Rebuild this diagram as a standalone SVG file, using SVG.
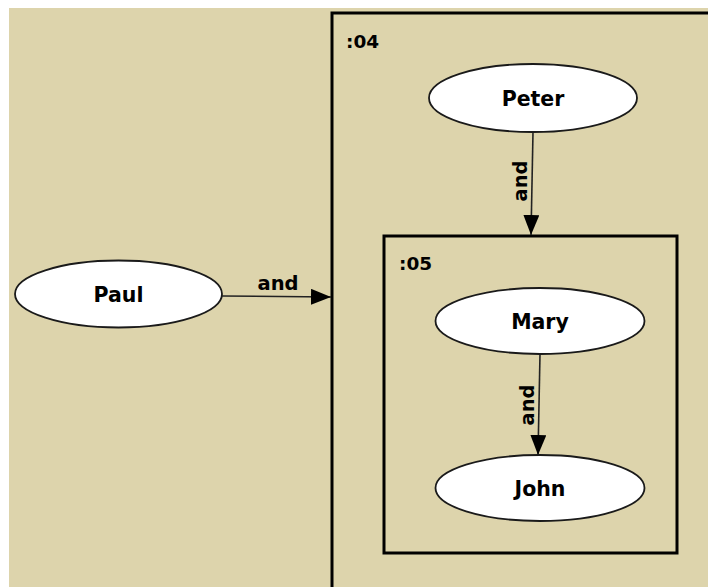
<svg xmlns="http://www.w3.org/2000/svg" width="708" height="587" viewBox="0 0 708 587">
  <defs>
    <marker id="arrowBig" viewBox="0 0 20 16" refX="20" refY="8" markerWidth="20" markerHeight="16" markerUnits="userSpaceOnUse" orient="auto">
      <path d="M0,0 L20,8 L0,16 Z" fill="#000"/>
    </marker>
  </defs>
  <style>
    .canvas { fill: #ddd4ac; }
    .box { fill: none; stroke: #000; stroke-width: 3; }
    .node ellipse { fill: #fff; stroke: #1a1a1a; stroke-width: 1.8; }
    .label { font-family: "DejaVu Sans", Verdana, sans-serif; font-weight: bold; font-size: 20.5px; fill: #000; }
    .boxlabel { font-family: "DejaVu Sans", Verdana, sans-serif; font-weight: bold; font-size: 18.5px; fill: #000; }
    .edge { stroke: #222; stroke-width: 1.6; fill: none; }
    .elabel { font-family: "DejaVu Sans", Verdana, sans-serif; font-weight: bold; font-size: 19.5px; fill: #000; }
  </style>

  <rect x="0" y="0" width="708" height="587" fill="#fff"/>
  <rect class="canvas" x="9" y="8" width="699" height="579"/>

  <!-- nested groups -->
  <g id="group04">
    <rect class="box" x="332" y="13" width="390" height="590"/>
    <text class="boxlabel" x="346" y="48">:04</text>
  </g>
  <g id="group05">
    <rect class="box" x="384" y="236" width="293" height="317"/>
    <text class="boxlabel" x="399" y="270">:05</text>
  </g>

  <!-- connectors -->
  <g id="connectors">
    <line class="edge" x1="222" y1="296" x2="331" y2="297" marker-end="url(#arrowBig)"/>
    <text class="elabel" x="278" y="290" text-anchor="middle">and</text>

    <line class="edge" x1="533" y1="132" x2="531" y2="235" marker-end="url(#arrowBig)"/>
    <text class="elabel" transform="translate(527,181) rotate(-90)" text-anchor="middle">and</text>

    <line class="edge" x1="540" y1="354" x2="538" y2="455" marker-end="url(#arrowBig)"/>
    <text class="elabel" transform="translate(534,405) rotate(-90)" text-anchor="middle">and</text>
  </g>

  <!-- nodes -->
  <g id="paul" class="node">
    <ellipse cx="118.5" cy="294" rx="103.5" ry="33.5"/>
    <text class="label" x="118.5" y="302" text-anchor="middle">Paul</text>
  </g>
  <g id="peter" class="node">
    <ellipse cx="533" cy="98" rx="104" ry="34"/>
    <text class="label" x="533" y="106" text-anchor="middle">Peter</text>
  </g>
  <g id="mary" class="node">
    <ellipse cx="540" cy="321" rx="104.5" ry="33"/>
    <text class="label" x="540" y="329" text-anchor="middle">Mary</text>
  </g>
  <g id="john" class="node">
    <ellipse cx="540" cy="488" rx="104.5" ry="33"/>
    <text class="label" x="540" y="496" text-anchor="middle">John</text>
  </g>
</svg>
